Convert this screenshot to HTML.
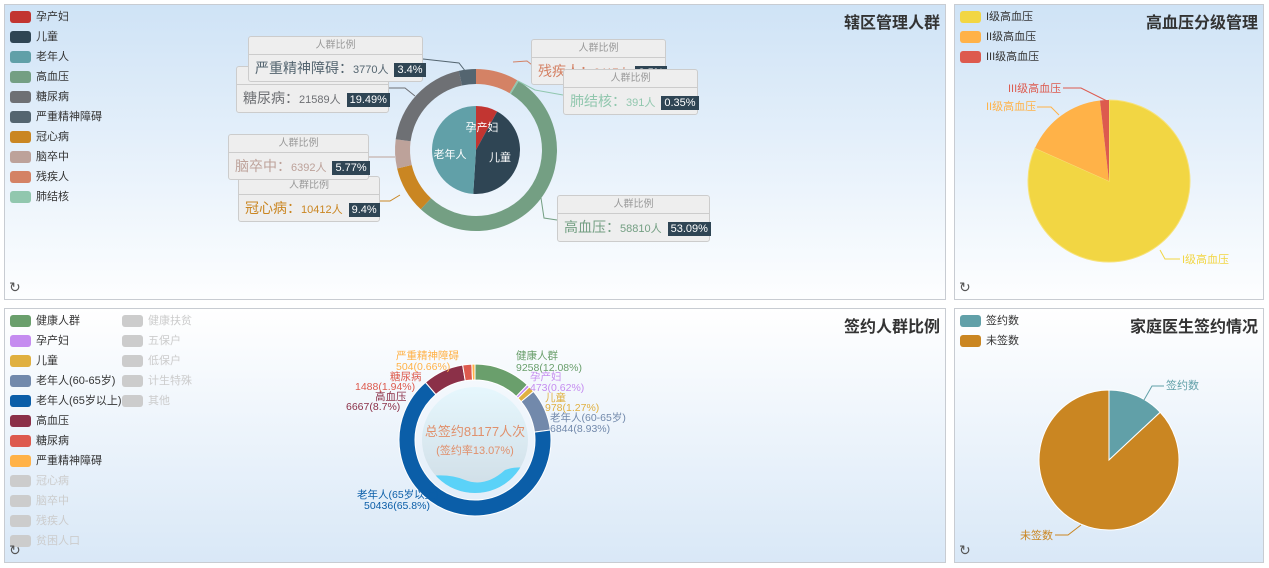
<!DOCTYPE html>
<html><head><meta charset="utf-8">
<style>
body{margin:0;width:1269px;height:568px;background:#fff;position:relative;overflow:hidden;font-family:"Liberation Sans","Noto Sans CJK SC",sans-serif;}
.p{position:absolute;border:1px solid #c8ccd2;box-sizing:border-box;overflow:hidden}
.top{background:linear-gradient(#cfe3f6,#fdfeff)}
.bot{background:linear-gradient(#ffffff,#d9e8f7)}
.t{position:absolute;right:5px;top:4px;font-size:16px;font-weight:bold;color:#333}
.lg{position:absolute;font-size:11px;color:#333;white-space:nowrap}
.lg div{height:20px;line-height:12px;display:flex;align-items:flex-start}
.lg i{display:inline-block;width:21px;height:12px;border-radius:3px;margin-right:5px}
.off{color:#ccc}
.ref{position:absolute;left:4px;bottom:3px;font-size:14px;color:#555}
.bx{position:absolute;background:#eee;border:1px solid #ccc;border-radius:3px;box-sizing:border-box;white-space:nowrap}
.bx .h{height:17px;line-height:17px;text-align:center;font-size:10px;color:#999;border-bottom:1px solid #ccc}
.bx .b{height:27px;line-height:27px;padding-left:6px;font-size:14px}
.bx .b span{font-size:11px}
.bx .b em{font-style:normal;background:#2f4554;color:#fff;font-size:11px;padding:1px 3px;margin-left:6px}
svg{position:absolute;left:0;top:0}
</style></head><body>

<div class="p top" style="left:4px;top:4px;width:942px;height:296px">
<div class="t">辖区管理人群</div>
<div class="lg" style="left:5px;top:6px">
<div><i style="background:#c23531"></i>孕产妇</div><div><i style="background:#2f4554"></i>儿童</div><div><i style="background:#61a0a8"></i>老年人</div><div><i style="background:#749f83"></i>高血压</div><div><i style="background:#6e7074"></i>糖尿病</div><div><i style="background:#546570"></i>严重精神障碍</div><div><i style="background:#ca8622"></i>冠心病</div><div><i style="background:#bda29a"></i>脑卒中</div><div><i style="background:#d48265"></i>残疾人</div><div><i style="background:#91c7ae"></i>肺结核</div>
</div><div class="ref">↻</div></div>

<div class="p top" style="left:954px;top:4px;width:310px;height:296px">
<div class="t">高血压分级管理</div>
<div class="lg" style="left:5px;top:6px">
<div><i style="background:#f2d643"></i>I级高血压</div><div><i style="background:#ffb248"></i>II级高血压</div><div><i style="background:#dd5a4e"></i>III级高血压</div>
</div><div class="ref">↻</div></div>

<div class="p bot" style="left:4px;top:308px;width:942px;height:255px">
<div class="t">签约人群比例</div>
<div class="lg" style="left:5px;top:6px">
<div><i style="background:#6a9f6c"></i>健康人群</div><div><i style="background:#c58cf0"></i>孕产妇</div><div><i style="background:#e0b040"></i>儿童</div><div><i style="background:#7289ab"></i>老年人(60-65岁)</div><div><i style="background:#0b5ea8"></i>老年人(65岁以上)</div><div><i style="background:#8b3048"></i>高血压</div><div><i style="background:#dd5a4e"></i>糖尿病</div><div><i style="background:#ffb248"></i>严重精神障碍</div><div class="off"><i style="background:#ccc"></i>冠心病</div><div class="off"><i style="background:#ccc"></i>脑卒中</div><div class="off"><i style="background:#ccc"></i>残疾人</div><div class="off"><i style="background:#ccc"></i>贫困人口</div>
</div>
<div class="lg" style="left:117px;top:6px">
<div class="off"><i style="background:#ccc"></i>健康扶贫</div><div class="off"><i style="background:#ccc"></i>五保户</div><div class="off"><i style="background:#ccc"></i>低保户</div><div class="off"><i style="background:#ccc"></i>计生特殊</div><div class="off"><i style="background:#ccc"></i>其他</div>
</div><div class="ref">↻</div></div>

<div class="p bot" style="left:954px;top:308px;width:310px;height:255px">
<div class="t">家庭医生签约情况</div>
<div class="lg" style="left:5px;top:6px">
<div><i style="background:#61a0a8"></i>签约数</div><div><i style="background:#ca8622"></i>未签数</div>
</div><div class="ref">↻</div></div>

<svg id="s2" width="1269" height="568"></svg>

<div class="bx" style="left:236px;top:66px;width:153px;height:47px"><div class="h">人群比例</div><div class="b" style="color:#6e7074">糖尿病：<span>21589人</span><em>19.49%</em></div></div>
<div class="bx" style="left:248px;top:36px;width:175px;height:46px"><div class="h">人群比例</div><div class="b" style="color:#546570">严重精神障碍：<span>3770人</span><em>3.4%</em></div></div>
<div class="bx" style="left:531px;top:39px;width:135px;height:46px"><div class="h">人群比例</div><div class="b" style="color:#d48265">残疾人：<span>9417人</span><em>8.5%</em></div></div>
<div class="bx" style="left:563px;top:69px;width:135px;height:46px"><div class="h">人群比例</div><div class="b" style="color:#91c7ae">肺结核：<span>391人</span><em>0.35%</em></div></div>
<div class="bx" style="left:238px;top:176px;width:142px;height:46px"><div class="h">人群比例</div><div class="b" style="color:#ca8622">冠心病：<span>10412人</span><em>9.4%</em></div></div>
<div class="bx" style="left:228px;top:134px;width:141px;height:46px"><div class="h">人群比例</div><div class="b" style="color:#bda29a">脑卒中：<span>6392人</span><em>5.77%</em></div></div>
<div class="bx" style="left:557px;top:195px;width:153px;height:47px"><div class="h">人群比例</div><div class="b" style="color:#749f83">高血压：<span>58810人</span><em>53.09%</em></div></div>

<script>
function pt(cx,cy,r,a){a=(a-90)*Math.PI/180;return [cx+r*Math.cos(a),cy+r*Math.sin(a)];}
function arc(cx,cy,r0,r1,a0,a1,c,stroke){
 var l=(a1-a0)>180?1:0,p1=pt(cx,cy,r1,a0),p2=pt(cx,cy,r1,a1),d;
 if(r0>0){var p3=pt(cx,cy,r0,a1),p4=pt(cx,cy,r0,a0);
  d='M'+p1+'A'+r1+','+r1+' 0 '+l+' 1 '+p2+'L'+p3+'A'+r0+','+r0+' 0 '+l+' 0 '+p4+'Z';}
 else d='M'+cx+','+cy+'L'+p1+'A'+r1+','+r1+' 0 '+l+' 1 '+p2+'Z';
 return '<path d="'+d+'" fill="'+c+'" stroke="'+(stroke||'none')+'" stroke-width="1"/>';}
function ser(cx,cy,r0,r1,data,st){var a=0,s='',t=0;data.forEach(function(d){t+=d[0]});
 data.forEach(function(d){var b=a+d[0]/t*360;s+=arc(cx,cy,r0,r1,a,b,d[1],st);a=b;});return s;}
var s='';
s+=ser(476,150,66,81,[[8.5,'#d48265'],[0.35,'#91c7ae'],[53.09,'#749f83'],[9.4,'#ca8622'],[5.77,'#bda29a'],[19.49,'#6e7074'],[3.4,'#546570']]);
s+=ser(476,150,0,44,[[8,'#c23531'],[43,'#2f4554'],[49,'#61a0a8']]);
s+='<g fill="#fff" font-size="11" text-anchor="middle"><text x="482" y="131">孕产妇</text><text x="450" y="158">老年人</text><text x="500" y="161">儿童</text></g>';
s+='<g fill="none" stroke-width="1"><polyline points="513,62 527,61 536,68" stroke="#d48265"/><polyline points="518,81 535,90 563,95" stroke="#91c7ae"/><polyline points="541,198 544,218 557,220" stroke="#749f83"/><polyline points="400,195 390,201 380,201" stroke="#ca8622"/><polyline points="395,157 369,157" stroke="#bda29a"/><polyline points="415,96 405,88 389,88" stroke="#6e7074"/><polyline points="466,72 459,63 423,59" stroke="#546570"/></g>';
s+=arc(1109,181,0,81,0,294,'#f2d643','#f7e27a')+arc(1109,181,0,81,294,353.6,'#ffb248')+arc(1109,181,0,81,353.6,360,'#dd5a4e');
s+='<g font-size="11"><polyline points="1160,250 1165,259 1180,259" fill="none" stroke="#f2d643"/><text x="1182" y="263" fill="#f2d643">I级高血压</text>'+
'<polyline points="1059,115 1051,107 1037,107" fill="none" stroke="#ffb248"/><text x="986" y="110" fill="#ffb248">II级高血压</text>'+
'<polyline points="1107,101 1081,88 1063,88" fill="none" stroke="#dd5a4e"/><text x="1008" y="92" fill="#dd5a4e">III级高血压</text></g>';
s+='<defs><clipPath id="cc"><circle cx="475" cy="440" r="53"/></clipPath><linearGradient id="ig" x1="0" y1="0" x2="0" y2="1"><stop offset="0" stop-color="#e6f7fd"/><stop offset="1" stop-color="#cfdde6"/></linearGradient></defs>';
s+='<circle cx="475" cy="440" r="53" fill="url(#ig)"/><path clip-path="url(#cc)" d="M420,478 Q445,472 465,480 T505,470 Q515,466 530,468 L530,500 L420,500 Z" fill="#5bd2f8"/>';
s+=ser(475,440,60,76,[[12.08,'#6a9f6c'],[0.62,'#c58cf0'],[1.27,'#e0b040'],[8.93,'#7289ab'],[65.8,'#0b5ea8'],[8.7,'#8b3048'],[1.94,'#dd5a4e'],[0.66,'#ffb248']],'#fff');
s+='<g font-size="11" text-anchor="middle"><text x="475" y="436" fill="#e0906c" font-size="13">总签约81177人次</text><text x="475" y="454" fill="#e0906c">(签约率13.07%)</text></g>';
s+='<g font-size="10.5"><text x="516" y="359" fill="#6a9f6c">健康人群</text><text x="516" y="371" fill="#6a9f6c">9258(12.08%)</text>'+
'<text x="530" y="380" fill="#c58cf0">孕产妇</text><text x="530" y="391" fill="#c58cf0">473(0.62%)</text>'+
'<text x="545" y="401" fill="#e0b040">儿童</text><text x="545" y="411" fill="#e0b040">978(1.27%)</text>'+
'<text x="550" y="421" fill="#7289ab">老年人(60-65岁)</text><text x="550" y="432" fill="#7289ab">6844(8.93%)</text>'+
'<text x="357" y="498" fill="#0b5ea8">老年人(65岁以上)</text><text x="364" y="509" fill="#0b5ea8">50436(65.8%)</text>'+
'<text x="375" y="400" fill="#8b3048">高血压</text><text x="346" y="410" fill="#8b3048">6667(8.7%)</text>'+
'<text x="390" y="380" fill="#dd5a4e">糖尿病</text><text x="355" y="390" fill="#dd5a4e">1488(1.94%)</text>'+
'<text x="396" y="359" fill="#ffb248">严重精神障碍</text><text x="396" y="370" fill="#ffb248">504(0.66%)</text></g>';
s+=arc(1109,460,0,70,0,47,'#61a0a8','#fff')+arc(1109,460,0,70,47,360,'#ca8622','#fff');
s+='<g font-size="11"><polyline points="1140,407 1152,386 1164,386" fill="none" stroke="#61a0a8"/><text x="1166" y="389" fill="#61a0a8">签约数</text>'+
'<polyline points="1081,525 1068,535 1055,535" fill="none" stroke="#ca8622"/><text x="1020" y="539" fill="#ca8622">未签数</text></g>';
document.getElementById('s2').innerHTML=s;
</script>
</body></html>
